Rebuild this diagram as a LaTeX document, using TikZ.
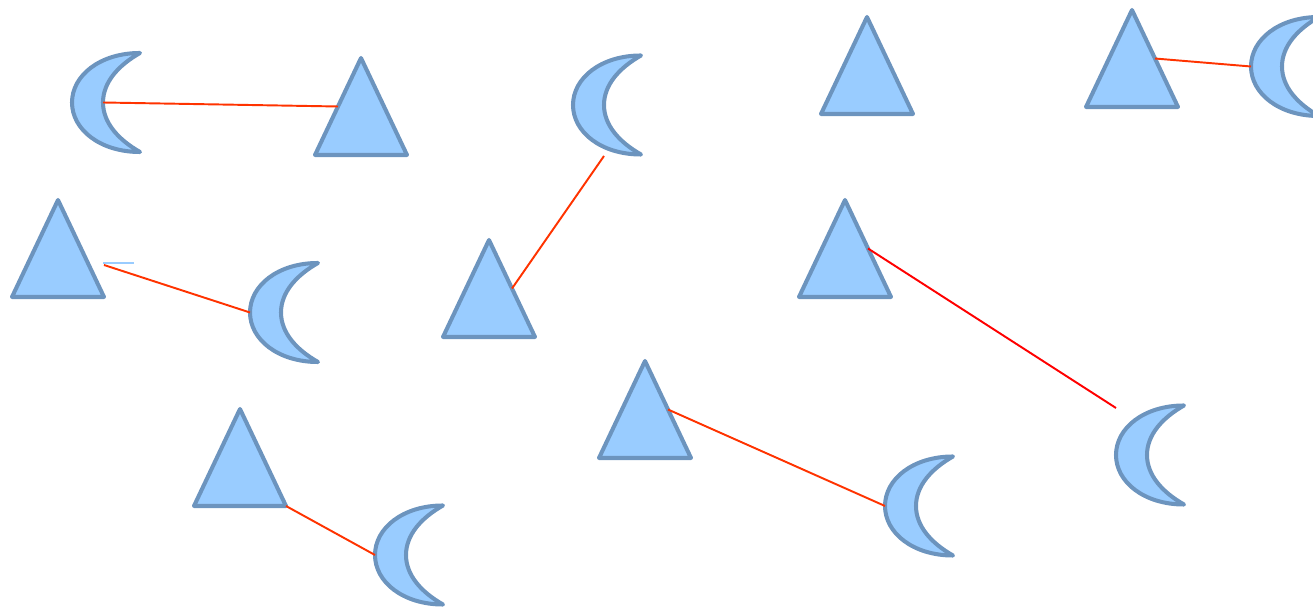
\documentclass[tikz,border=0pt]{standalone}
\usetikzlibrary{positioning}
\definecolor{shapefill}{RGB}{153,204,255}
\definecolor{shapeline}{RGB}{108,148,190}
\definecolor{linkred}{RGB}{255,51,0}
\definecolor{purered}{RGB}{255,0,0}

\begin{document}
\begin{tikzpicture}[
    x=0.02cm, y=-0.02cm,
    blob/.style={draw=shapeline, fill=shapefill, line width=2.3pt, line join=round},
    link/.style={draw=linkred, line width=1.1pt},
    moon/.pic={
        \path[blob] (0,-49.5) .. controls (-40,-49.5) and (-68,-27) .. (-68,0)
            .. controls (-68,27) and (-40,49.5) .. (0,49.5)
            .. controls (-22,37) and (-37,20) .. (-37,0)
            .. controls (-37,-20) and (-22,-37) .. cycle;
        \coordinate (-outer) at (-68,0);
        \coordinate (-inner) at (-37,0);
    },
    tri/.pic={
        \path[blob] (0,-97) -- (46,0) -- (-46,0) -- cycle;
        \coordinate (-right) at (46,0);
        \coordinate (-lmid) at (-23,-48.5);
        \coordinate (-rmid) at (23,-48.5);
    }
]
\useasboundingbox (0,0) rectangle (1313,607);

% Moons
\pic (m1) at (140,102.5) {moon};
\pic (m2) at (641,105) {moon};
\pic (m3) at (318,312.5) {moon};
\pic (m4) at (443,555) {moon};
\pic (m5) at (953,506) {moon};
\pic (m6) at (1184,455) {moon};
\pic (m7) at (1319,66.5) {moon};

% Triangles
\pic (t1) at (361,155) {tri};
\pic (t2) at (867,114) {tri};
\pic (t3) at (1132,107) {tri};
\pic (t4) at (58,297) {tri};
\pic (t5) at (489,337) {tri};
\pic (t6) at (845,297) {tri};
\pic (t7) at (645,458) {tri};
\pic (t8) at (240,506) {tri};

% Free ends
\coordinate (m2foot) at (604,156);
\coordinate (t4tip) at (104,265);
\coordinate (stubA) at (103,263);
\coordinate (stubB) at (134,263);
\coordinate (m6top) at (1116,408);

% Links
\draw[link] (m1-inner) -- (t1-lmid);
\draw[link] (m2foot) -- (t5-rmid);
\draw[link] (t3-rmid) -- (m7-outer);
\draw[link] (t4tip) -- (m3-outer);
\draw[shapefill, line width=1pt] (stubA) -- (stubB);
\draw[link, draw=purered] (t6-rmid) -- (m6top);
\draw[link] (t7-rmid) -- (m5-outer);
\draw[link] (t8-right) -- (m4-outer);

\end{tikzpicture}
\end{document}
